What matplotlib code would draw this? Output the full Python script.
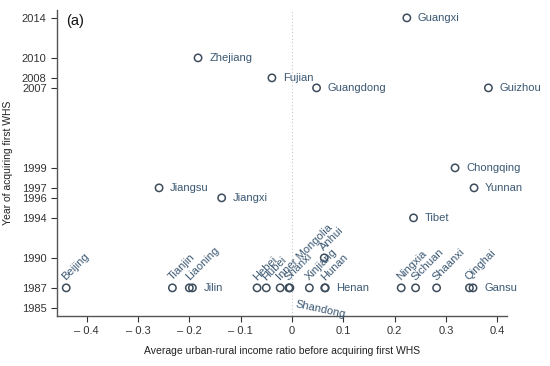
import matplotlib.pyplot as plt

plt.rcParams['font.family'] = ['Liberation Sans', 'DejaVu Sans']

# province, income ratio, year of first WHS, label style
names = ['Beijing', 'Tianjin', 'Liaoning', 'Jilin', 'Hebei', 'Hubei',
         'Inner Mongolia', 'Shanxi', 'Shandong', 'Xinjiang', 'Hunan', 'Henan',
         'Anhui', 'Ningxia', 'Sichuan', 'Shaanxi', 'Qinghai', 'Gansu',
         'Tibet', 'Chongqing', 'Yunnan', 'Jiangsu', 'Jiangxi', 'Zhejiang',
         'Fujian', 'Guangdong', 'Guangxi', 'Guizhou']
ratio = [-0.44, -0.233, -0.200, -0.194, -0.068, -0.050,
         -0.023, -0.006, -0.004, 0.034, 0.064, 0.065,
         0.063, 0.213, 0.241, 0.282, 0.346, 0.353,
         0.237, 0.318, 0.355, -0.259, -0.137, -0.183,
         -0.039, 0.048, 0.224, 0.383]
year = [1987, 1987, 1987, 1987, 1987, 1987,
        1987, 1987, 1987, 1987, 1987, 1987,
        1990, 1987, 1987, 1987, 1987, 1987,
        1994, 1999, 1997, 1997, 1996, 2010,
        2008, 2007, 2014, 2007]
style = ['rot', 'rot', 'rot', 'right', 'rot', 'rot',
         'rot', 'rot', 'down', 'rot', 'rot', 'right',
         'rot', 'rot', 'rot', 'rot', 'rot', 'right',
         'right', 'right', 'right', 'right', 'right', 'right',
         'right', 'right', 'right', 'right']

yticks = [1985, 1987, 1990, 1994, 1996, 1997, 1999, 2007, 2008, 2010, 2014]
xticks = [-0.4, -0.3, -0.2, -0.1, 0, 0.1, 0.2, 0.3, 0.4]

mcol = '#3e4d5c'
tcol = '#3b5873'

fig = plt.figure(figsize=(5.5, 3.66), dpi=100)
ax = fig.add_axes([0.1036, 0.137, 0.818, 0.836])

ax.axvline(0, color='#c8c8c8', lw=0.8, ls=(0, (1, 2)), zorder=0)
ax.scatter(ratio, year, s=28, facecolors='none', edgecolors=mcol,
           linewidths=1.1, zorder=3, clip_on=False)

for n, x, y, st in zip(names, ratio, year, style):
    if st == 'right':
        ax.annotate(n, (x, y), xytext=(8, 0), textcoords='offset points',
                    ha='left', va='center', fontsize=8, color=tcol)
    elif st == 'rot':
        ax.annotate(n, (x, y), xytext=(1, 4), textcoords='offset points',
                    ha='left', va='bottom', rotation=45,
                    rotation_mode='anchor', fontsize=8, color=tcol)
    else:
        ax.annotate(n, (x, y), xytext=(5, -8), textcoords='offset points',
                    ha='left', va='top', rotation=-12,
                    rotation_mode='anchor', fontsize=8, color=tcol)

ax.set_xlim(-0.458, 0.419)
ax.set_ylim(1984.2, 2014.8)
ax.set_yticks(yticks)
ax.set_yticklabels([str(v) for v in yticks])
ax.set_xticks(xticks)
ax.set_xticklabels([('\u2013 %.1f' % -v) if v < 0 else ('0' if v == 0 else '%.1f' % v)
                    for v in xticks])
ax.tick_params(labelsize=8, length=4, width=0.8, colors='#333333')

for s in ['top', 'right']:
    ax.spines[s].set_visible(False)
for s in ['left', 'bottom']:
    ax.spines[s].set_color('#555555')
    ax.spines[s].set_linewidth(1.0)

ax.set_xlabel('Average urban-rural income ratio before acquiring first WHS',
              fontsize=7.5, color='#222222', labelpad=7)
ax.set_ylabel('Year of acquiring first WHS', fontsize=7.5, color='#222222',
              labelpad=6)
ax.text(0.02, 0.985, '(a)', transform=ax.transAxes, fontsize=10.5,
        ha='left', va='top', color='#111111')

fig.savefig('out.png', dpi=100)
